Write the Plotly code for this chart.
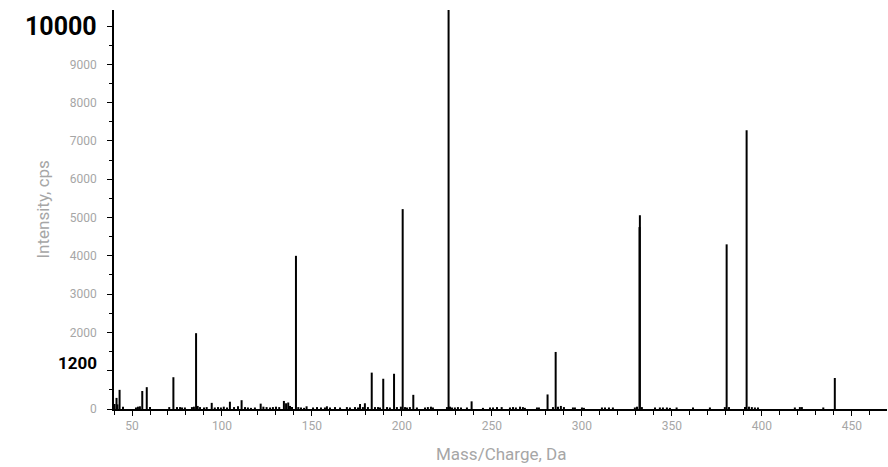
import plotly.graph_objects as go

# Peak list: m/z values and intensities (cps)
mz = [
    40.3, 41.4, 41.9, 43.1, 45.0, 52.2, 53.3, 54.4, 55.7, 58.2, 60.0, 70.7, 73.0, 75.0, 76.7,
    77.8, 79.4, 83.3, 84.4, 85.6, 86.5, 87.8, 90.0, 91.5, 94.3, 96.0, 97.8, 99.4, 101.0, 102.8,
    104.4, 106.7, 108.9,
    110.9, 112.8, 114.4, 116.1, 118.3, 121.5, 123.0, 124.8, 126.7, 128.3, 130.0, 131.8, 134.4,
    135.6, 136.8, 137.8, 138.9, 141.1, 142.4, 143.9, 145.6, 147.0, 150.6, 152.8, 155.0, 157.2,
    158.3, 160.0, 162.8, 165.6, 169.4, 171.1, 173.9, 175.6, 176.7, 178.3, 179.4, 181.1,
    183.2, 185.0, 186.7, 187.8, 189.6, 191.7, 193.3, 195.6, 197.2, 199.4, 200.4, 201.7, 202.8,
    204.4, 206.3, 208.3, 212.8, 214.4, 216.1, 217.2, 225.0, 225.9, 226.7, 227.8, 229.4, 231.1,
    232.8, 236.1, 238.7, 245.0, 248.9, 250.6, 252.8,
    255.4, 260.0, 261.7, 263.3, 265.6, 267.2, 268.3, 275.0, 276.1, 280.9, 283.9, 285.4, 286.7,
    288.3, 290.0, 295.0, 296.1, 300.0, 301.1, 311.1, 312.8, 315.0, 317.2,
    329.4, 330.6, 332.0, 332.2, 333.3, 340.6, 343.3, 345.0, 347.2, 348.9, 352.6, 361.7, 371.1,
    379.4, 380.4, 381.7, 390.6, 391.5, 392.8, 394.4, 396.1, 397.8,
    418.3, 421.1, 422.2, 434.1, 440.5,
]
intensity = [
    130, 290, 120, 500, 60, 40, 60, 70, 470, 570, 50, 50, 830, 50, 50,
    40, 40, 50, 60, 1980, 80, 50, 40, 50, 160, 40, 50, 40, 60, 40,
    190, 50, 70,
    230, 50, 40, 30, 40, 140, 60, 50, 40, 50, 60, 50, 210,
    150, 170, 80, 50, 4000, 50, 40, 30, 70, 40, 50, 40, 40,
    70, 40, 50, 40, 50, 40, 50, 40, 130, 50, 150, 50,
    950, 50, 50, 40, 790, 50, 40, 920, 50, 60, 5220, 50, 40,
    50, 370, 40, 40, 50, 60, 40, 50, 10420, 60, 40, 40, 50,
    40, 40, 200, 30, 40, 40, 50,
    50, 40, 50, 40, 60, 50, 30, 40, 40, 380, 50, 1490, 60,
    80, 50, 40, 40, 40, 30, 40, 40, 40, 40,
    40, 60, 4750, 5060, 50, 40, 40, 40, 40, 30, 40, 40, 40,
    50, 4300, 50, 50, 7280, 60, 50, 40, 40,
    40, 50, 50, 40, 810,
]

y_tick_vals = [0, 1000, 2000, 3000, 4000, 5000, 6000, 7000, 8000, 9000, 10000]
y_tick_text = ["0", "", "2000", "3000", "4000", "5000", "6000", "7000", "8000", "9000", ""]
x_tick_vals = [50, 100, 150, 200, 250, 300, 350, 400, 450]

# Build stick segments from the data
xs, ys = [], []
for m, v in zip(mz, intensity):
    xs += [m, m, None]
    ys += [0, v, None]

fig = go.Figure()
fig.add_trace(go.Scatter(x=xs, y=ys, mode="lines",
                         line=dict(color="black", width=2),
                         hoverinfo="skip", showlegend=False))

FONT = "Roboto"
GREY = "#a6a6a6"

fig.update_layout(
    width=888, height=467,
    margin=dict(l=114, r=1, t=10, b=58),
    plot_bgcolor="white", paper_bgcolor="white",
    font=dict(family=FONT, size=12, color=GREY),
    xaxis=dict(
        range=[40, 469.5], showgrid=False, zeroline=False,
        showline=True, linecolor="black", linewidth=1.5,
        ticks="outside", ticklen=5, tickcolor="black", tickwidth=1,
        tickvals=x_tick_vals, tickfont=dict(size=12, color=GREY),
        minor=dict(dtick=10, tick0=0, ticks="outside", ticklen=4,
                   tickcolor="black", tickwidth=1),
    ),
    yaxis=dict(
        range=[0, 10420], showgrid=False, zeroline=False,
        showline=True, linecolor="black", linewidth=1.5,
        ticks="outside", ticklen=5, tickcolor="black", tickwidth=1,
        tickvals=y_tick_vals, ticktext=y_tick_text,
        tickfont=dict(size=12, color=GREY), ticklabelstandoff=8,
        minor=dict(dtick=500, tick0=0, ticks="outside", ticklen=3,
                   tickcolor="black", tickwidth=1),
    ),
    annotations=[
        dict(text="<b>10000</b>", x=0, xref="paper", y=10000, yref="y",
             xanchor="right", yanchor="middle", xshift=-15, showarrow=False,
             font=dict(family=FONT, size=25, color="black")),
        dict(text="<b>1200</b>", x=0, xref="paper", y=1200, yref="y",
             xanchor="right", yanchor="middle", xshift=-15, showarrow=False,
             font=dict(family=FONT, size=17, color="black")),
        dict(text="Intensity, cps", x=-0.0931, xref="paper", y=0.5, yref="paper",
             xanchor="center", yanchor="middle", textangle=-90, showarrow=False,
             font=dict(family=FONT, size=17, color=GREY)),
        dict(text="Mass/Charge, Da", x=0.5, xref="paper", y=-0.1128, yref="paper",
             xanchor="center", yanchor="middle", showarrow=False,
             font=dict(family=FONT, size=17, color=GREY)),
    ],
)

fig.write_html("out.html", config={"displayModeBar": False},
               post_script="document.body.style.margin='0px';document.body.style.overflow='hidden';")
